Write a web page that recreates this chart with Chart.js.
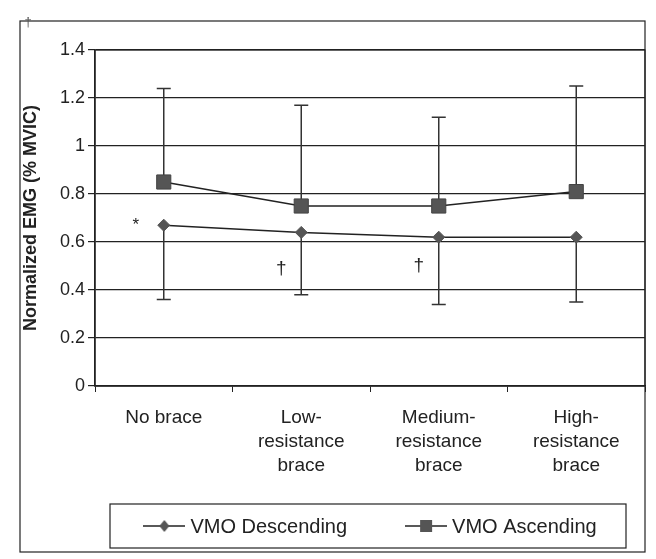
<!DOCTYPE html>
<html>
<head>
<meta charset="utf-8">
<script src="https://cdn.jsdelivr.net/npm/chart.js@4.4.0/dist/chart.umd.min.js"></script>
<style>
  html, body { margin: 0; padding: 0; background: #fff; }
  #wrap { width: 656px; height: 559px; position: relative; }
</style>
</head>
<body>
<div id="wrap"><canvas id="emgChart"></canvas></div>
<script>
const categories = [['No brace'], ['Low-', 'resistance', 'brace'], ['Medium-', 'resistance', 'brace'], ['High-', 'resistance', 'brace']];
const vmoDescending = [0.67, 0.64, 0.62, 0.62];
const vmoAscending = [0.85, 0.75, 0.75, 0.81];
const descendingLower = [0.36, 0.38, 0.34, 0.35];
const ascendingUpper = [1.24, 1.17, 1.12, 1.25];
const yTicks = [0, 0.2, 0.4, 0.6, 0.8, 1, 1.2, 1.4];
// significance marks: category index, value, symbol
const marks = [
    { cat: 0, value: 0.68, text: '*' },
    { cat: 1, value: 0.49, text: '\u2020' },
    { cat: 2, value: 0.50, text: '\u2020' }
];

const FONT = "'Liberation Sans', Arial, sans-serif";
const INK = '#222';

function legendIcon(kind) {
    const c = document.createElement('canvas');
    c.width = 42; c.height = 16;
    const g = c.getContext('2d');
    g.strokeStyle = INK; g.lineWidth = 1.5;
    g.beginPath(); g.moveTo(0, 8); g.lineTo(42, 8); g.stroke();
    g.fillStyle = '#555';
    if (kind === 'rect') {
        g.fillRect(15, 2, 12, 12);
    } else {
        g.beginPath();
        g.moveTo(21, 2); g.lineTo(26, 8); g.lineTo(21, 14); g.lineTo(16, 8); g.closePath();
        g.fill();
    }
    return c;
}
const icons = [legendIcon('diamond'), legendIcon('rect')];

const errorBars = {
    id: 'errorBars',
    beforeDatasetsDraw(chart) {
        const { ctx, scales: { x, y } } = chart;
        ctx.save();
        ctx.strokeStyle = '#333';
        ctx.lineWidth = 1.5;
        const bar = (i, from, to) => {
            const px = x.getPixelForValue(i);
            const end = y.getPixelForValue(to);
            ctx.beginPath();
            ctx.moveTo(px, y.getPixelForValue(from));
            ctx.lineTo(px, end);
            ctx.moveTo(px - 7, end);
            ctx.lineTo(px + 7, end);
            ctx.stroke();
        };
        categories.forEach((c, i) => {
            bar(i, vmoAscending[i], ascendingUpper[i]);
            bar(i, vmoDescending[i], descendingLower[i]);
        });
        ctx.restore();
    }
};

const frames = {
    id: 'frames',
    afterDraw(chart) {
        const { ctx, chartArea: a, scales: { x, y } } = chart;
        ctx.save();
        ctx.strokeStyle = INK;
        ctx.lineWidth = 1.2;
        // plot area border
        ctx.strokeRect(a.left, a.top, a.right - a.left, a.bottom - a.top);
        // outer chart border
        ctx.strokeRect(20, 21, a.right - 20, chart.height - 28);

        // boxed legend
        const top = chart.height - 55, h = 44, cy = top + h / 2;
        ctx.strokeRect(a.left + 15, top, a.right - a.left - 34, h);
        ctx.font = '20px ' + FONT;
        ctx.fillStyle = INK;
        ctx.textBaseline = 'middle';
        ctx.textAlign = 'left';
        const items = chart.data.datasets.map((ds, i) => ({
            label: ds.label, icon: icons[i], w: 47 + ctx.measureText(ds.label).width
        }));
        const gap = 58;
        const total = items.reduce((s, it) => s + it.w, 0) + gap * (items.length - 1);
        let lx = (a.left + a.right) / 2 - total / 2;
        items.forEach(it => {
            ctx.drawImage(it.icon, lx, cy - 8);
            ctx.fillText(it.label, lx + 47, cy + 1);
            lx += it.w + gap;
        });

        // significance marks
        ctx.textAlign = 'center';
        marks.forEach(m => {
            const star = m.text === '*';
            ctx.font = (star ? '17px ' : '19px ') + FONT;
            ctx.fillText(m.text, x.getPixelForValue(m.cat) + (star ? -28 : -20), y.getPixelForValue(m.value) + (star ? 3 : 0));
        });
        ctx.font = '13px ' + FONT;
        ctx.fillStyle = '#555';
        ctx.fillText('\u2020', 28, 22);
        ctx.restore();
    }
};

const ctx = document.getElementById('emgChart').getContext('2d');

new Chart(ctx, {
    type: 'line',
    data: {
        labels: categories,
        datasets: [{
            label: 'VMO Descending',
            data: vmoDescending,
            borderColor: INK,
            borderWidth: 1.5,
            pointStyle: 'rectRot',
            pointRadius: 6,
            pointBackgroundColor: '#555',
            pointBorderColor: '#555',
            pointBorderWidth: 1,
            tension: 0
        }, {
            label: 'VMO Ascending',
            data: vmoAscending,
            borderColor: INK,
            borderWidth: 1.5,
            pointStyle: 'rect',
            pointRadius: 10,
            pointBackgroundColor: '#555',
            pointBorderColor: '#444',
            pointBorderWidth: 1,
            tension: 0
        }]
    },
    options: {
        responsive: true,
        maintainAspectRatio: false,
        animation: false,
        layout: {
            padding: { top: 50, right: 8, bottom: 63, left: 0 }
        },
        scales: {
            x: {
                offset: true,
                grid: {
                    offset: true,
                    drawOnChartArea: false,
                    drawTicks: true,
                    tickLength: 6,
                    color: INK
                },
                border: { color: INK, width: 1.5 },
                ticks: {
                    color: INK,
                    maxRotation: 0,
                    padding: 14,
                    font: { family: FONT, size: 19, lineHeight: 1.25 }
                },
                afterFit: s => { s.height = 110; }
            },
            y: {
                min: 0,
                max: 1.4,
                afterBuildTicks: s => { s.ticks = yTicks.map(v => ({ value: v })); },
                grid: {
                    color: INK,
                    lineWidth: 1.2,
                    tickLength: 7
                },
                border: { color: INK, width: 1.5 },
                ticks: {
                    color: INK,
                    padding: 3,
                    font: { family: FONT, size: 18 },
                    callback: v => String(Math.round(v * 10) / 10)
                },
                title: {
                    display: true,
                    text: 'Normalized EMG (% MVIC)',
                    color: INK,
                    padding: { top: 20, bottom: 0 },
                    font: { family: FONT, size: 18, weight: 'bold' }
                },
                afterFit: s => { s.width = 95; }
            }
        },
        plugins: {
            legend: { display: false },
            tooltip: { enabled: false }
        }
    },
    plugins: [errorBars, frames]
});
</script>
</body>
</html>
